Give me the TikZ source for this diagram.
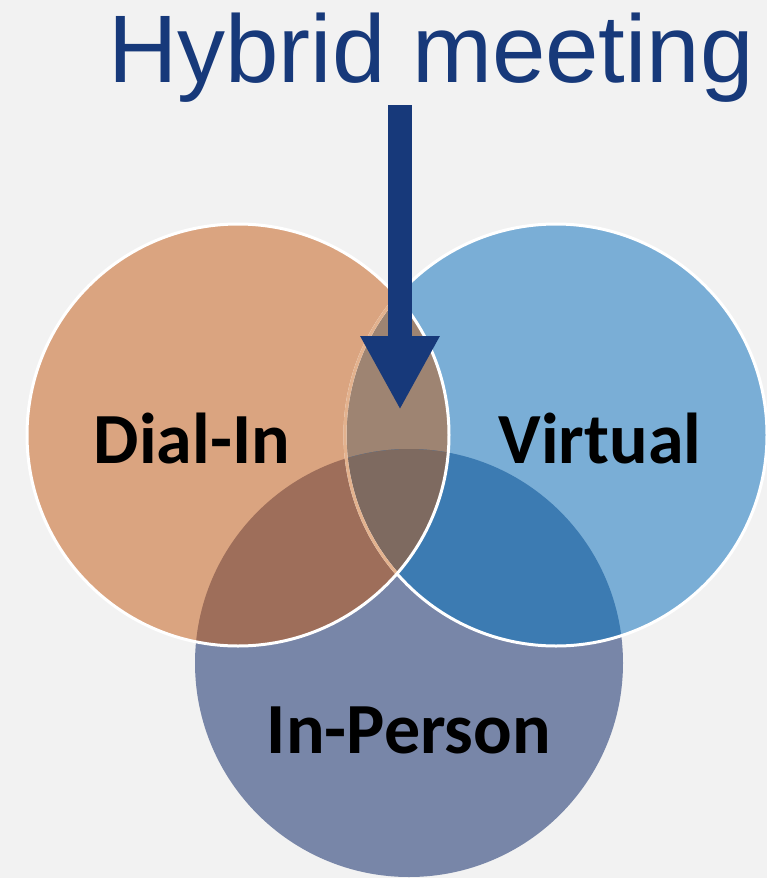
\documentclass[tikz,border=0pt]{standalone}
\usepackage{fontspec}
\setmainfont{Liberation Sans}
\newfontfamily\labelfont{Carlito}
\usetikzlibrary{arrows.meta}
\definecolor{bg}{HTML}{F2F2F2}
\definecolor{sand}{HTML}{DAA480}
\definecolor{sky}{HTML}{7AAED6}
\definecolor{slate}{HTML}{7886A8}
\definecolor{sandsky}{HTML}{9E8472}
\definecolor{sandslate}{HTML}{9E6E5A}
\definecolor{skyslate}{HTML}{3C7BB2}
\definecolor{allthree}{HTML}{7E6A60}
\definecolor{paleedge}{HTML}{E3B28E}
\definecolor{navy}{HTML}{17397A}
\tikzset{
	rim/.style={draw=white,line width=2.25pt},
	setname/.style={font=\labelfont\bfseries\fontsize{54}{62}\selectfont,inner sep=0pt,anchor=base}
}
\begin{document}
\begin{tikzpicture}[x=0.75pt,y=-0.75pt]
	\fill[bg] (0,0) rectangle (767,878);
	\useasboundingbox (0,0) rectangle (767,878);
	\coordinate (dial) at (238,435);
	\coordinate (virt) at (556,435);
	\coordinate (pers) at (409,663);
	\fill[slate] (pers) circle[radius=160.5pt];
	\fill[sky] (virt) circle[radius=158.25pt];
	\fill[sand] (dial) circle[radius=158.25pt];
	\begin{scope}
		\clip (dial) circle[radius=158.25pt];
		\fill[sandsky] (virt) circle[radius=158.25pt];
		\fill[sandslate] (pers) circle[radius=160.5pt];
	\end{scope}
	\begin{scope}
		\clip (virt) circle[radius=158.25pt];
		\fill[skyslate] (pers) circle[radius=160.5pt];
		\clip (dial) circle[radius=158.25pt];
		\fill[allthree] (pers) circle[radius=160.5pt];
	\end{scope}
	\draw[rim] (virt) circle[radius=158.25pt];
	\begin{scope}
		\clip (dial) circle[radius=158.25pt];
		\draw[rim,draw=paleedge] (virt) circle[radius=158.25pt];
	\end{scope}
	\draw[rim] (dial) circle[radius=158.25pt];
	\node[font=\fontsize{72}{80}\selectfont,text=navy,inner sep=0pt,anchor=base] (title) at (431,82) {Hybrid meeting};
	\coordinate (shaft) at (400,105);
	\coordinate (tip) at (400,410);
	\draw[navy,line width=18pt,-{Triangle[width=55.5pt,length=55.5pt]}] (shaft) -- (tip);
	\node[setname] (dialin) at (192,463) {Dial-In};
	\node[setname] (virtual) at (600,463) {Virtual};
	\node[setname] (inperson) at (409,753) {In-Person};
\end{tikzpicture}
\end{document}
